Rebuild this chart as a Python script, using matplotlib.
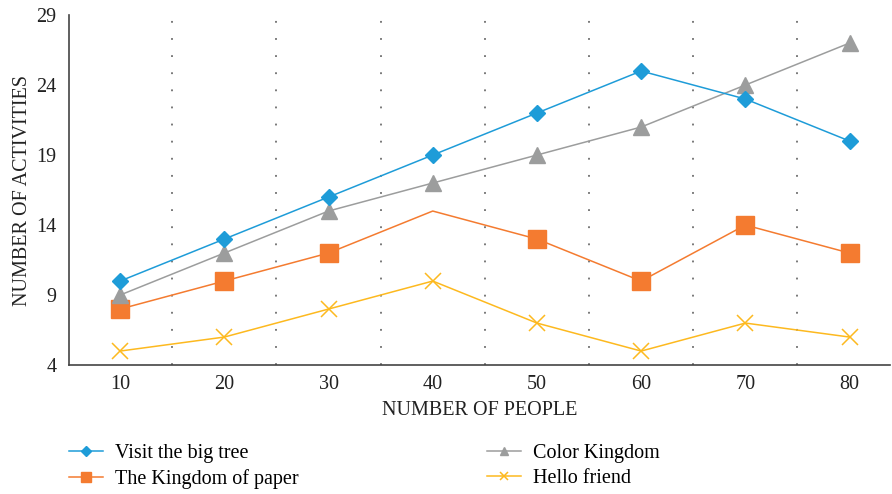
import matplotlib
matplotlib.use("Agg")
import matplotlib.pyplot as plt

plt.rcParams["font.family"] = ["Liberation Serif", "DejaVu Serif"]

people = [10, 20, 30, 40, 50, 60, 70, 80]
big_tree = [10, 13, 16, 19, 22, 25, 23, 20]
paper_kingdom = [8, 10, 12, 15, 13, 10, 14, 12]
color_kingdom = [9, 12, 15, 17, 19, 21, 24, 27]
hello_friend = [5, 6, 8, 10, 7, 5, 7, 6]
y_ticks = [4, 9, 14, 19, 24, 29]

BLUE   = "#1e9cd8"
ORANGE = "#f47b30"
GRAY   = "#9c9d9d"
YELLOW = "#fdb91f"
TEXT   = "#222222"
FS     = 14.5

fig = plt.figure(figsize=(8.92, 4.94), dpi=100)
ax = fig.add_axes([0.0774, 0.261, 0.9206, 0.7086])

# separators between categories
for xv in range(15, 80, 10):
    ax.axvline(xv, color="#555555", linestyle=(0, (1.2, 10)), linewidth=1.1, zorder=0)

ax.plot(people, big_tree, color=BLUE, lw=1.1, marker="D", ms=8.5,
        label="Visit the big tree", zorder=3)
ax.plot(people, paper_kingdom, color=ORANGE, lw=1.1, marker="s", ms=13,
        markevery=[0, 1, 2, 4, 5, 6, 7], label="The Kingdom of paper", zorder=2)
ax.plot(people, color_kingdom, color=GRAY, lw=1.1, marker="^", ms=11,
        label="Color Kingdom", zorder=2)
ax.plot(people, hello_friend, color=YELLOW, lw=1.1, marker="x", ms=11, mew=1.1,
        label="Hello friend", zorder=2)

ax.set_xlim(5.1, 83.9)
ax.set_ylim(4, 29)
ax.set_xticks(people)
ax.set_yticks(y_ticks)
ax.tick_params(axis="both", length=0, labelsize=FS, colors=TEXT, pad=7)
ax.tick_params(axis="y", pad=9)

for side in ("top", "right"):
    ax.spines[side].set_visible(False)
for side in ("left", "bottom"):
    ax.spines[side].set_color("#444444")
    ax.spines[side].set_linewidth(1.2)

ax.set_xlabel("NUMBER OF PEOPLE", fontsize=FS, color=TEXT, labelpad=5)
ax.set_ylabel("NUMBER OF ACTIVITIES", fontsize=FS, color=TEXT, labelpad=3)

fig.legend(loc="upper left", bbox_to_anchor=(0.068, 0.117), ncol=2,
           frameon=False, fontsize=FS, markerscale=0.55, handlelength=1.7,
           handletextpad=0.6, columnspacing=9.35, labelspacing=0.3,
           borderaxespad=0)

fig.savefig("out.png", dpi=100)
